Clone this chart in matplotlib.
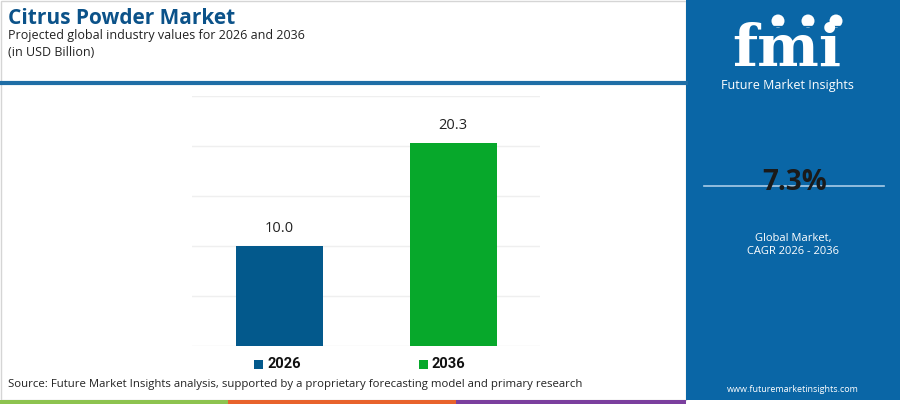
import matplotlib.pyplot as plt
from matplotlib.patches import Rectangle, Ellipse
from matplotlib.lines import Line2D

years = ['2026', '2036']
values = [10.0, 20.3]
bar_colors = ['#03598C', '#07A82B']
yticks = [0, 5, 10, 15, 20, 25]

W, H = 900, 404
fig = plt.figure(figsize=(9, 4.04), dpi=100)
fig.patch.set_facecolor('white')

def fx(x):
    return x / W

def fy(y):
    return 1 - y / H

# frame, header line and bottom stripes
fig.patches.append(Rectangle((fx(0.5), fy(400)), fx(685), 399.5 / H, transform=fig.transFigure,
                             fill=False, edgecolor='#D5D5D5', lw=1))
fig.add_artist(Line2D([0, fx(686)], [fy(83), fy(83)], color='#1F6EA6', lw=3, transform=fig.transFigure))
stripes = [('#8DC34F', 0, 228), ('#E8632C', 228, 456), ('#7B3F9E', 456, 686)]
for c, x0, x1 in stripes:
    fig.patches.append(Rectangle((fx(x0), fy(404)), fx(x1 - x0), 4 / H, transform=fig.transFigure,
                                 color=c, lw=0))

# right panel
panel = '#0A66A6'
fig.patches.append(Rectangle((fx(686), fy(400)), fx(214), 400 / H, transform=fig.transFigure,
                             color=panel, lw=0))
fig.text(fx(787), fy(66), 'fmi', color='white', fontsize=42, fontweight='bold',
         family='DejaVu Serif', ha='center', va='baseline')
for yy in range(26, 68, 4):
    fig.add_artist(Line2D([fx(716), fx(858)], [fy(yy), fy(yy)], color=panel, lw=0.9,
                          transform=fig.transFigure))
for cx in [778, 808, 836]:
    fig.patches.append(Ellipse((fx(cx), fy(21)), 13 / W, 13 / H, transform=fig.transFigure,
                               facecolor='white', edgecolor='none'))
fig.text(fx(787), fy(86), 'Future Market Insights', color='white', fontsize=9,
         family='Open Sans', ha='center', va='center')
fig.add_artist(Line2D([fx(704), fx(884)], [fy(186), fy(186)], color='#A9CCE8', lw=1.2,
                      transform=fig.transFigure))
fig.text(fx(795), fy(183), '7.3%', color='#1A1A1A', fontsize=20, fontweight='bold',
         family='Open Sans', ha='center', va='center')
fig.text(fx(793), fy(238), 'Global Market,', color='white', fontsize=8, family='Open Sans',
         ha='center', va='center')
fig.text(fx(793), fy(251), 'CAGR 2026 - 2036', color='white', fontsize=8, family='Open Sans',
         ha='center', va='center')
fig.text(fx(793), fy(389), 'www.futuremarketinsights.com', color='white', fontsize=6.5,
         family='Open Sans', ha='center', va='center')

# titles
fig.text(fx(8), fy(18), 'Citrus Powder Market', color='#0B5289', fontsize=15, fontweight='bold',
         family='Open Sans', ha='left', va='center')
fig.text(fx(8), fy(35), 'Projected global industry values for 2026 and 2036', color='#222222',
         fontsize=9, family='Open Sans', ha='left', va='center')
fig.text(fx(8), fy(52), '(in USD Billion)', color='#222222', fontsize=9, family='Open Sans',
         ha='left', va='center')
fig.text(fx(8), fy(384), 'Source: Future Market Insights analysis, supported by a proprietary forecasting model and primary research',
         color='#222222', fontsize=8.2, family='Open Sans', ha='left', va='center')

# chart
ax = fig.add_axes([fx(192), fy(346), fx(540 - 192), (346 - 96) / H])
x = range(len(years))
ax.bar(x, values, width=0.5, color=bar_colors, zorder=3)
for xi, v in zip(x, values):
    ax.text(xi, v + 1.0, f'{v:.1f}', ha='center', va='bottom', fontsize=10.5,
            family='Open Sans', color='#222222')
ax.set_xlim(-0.5, 1.5)
ax.set_ylim(0, 25)
ax.set_yticks(yticks)
ax.grid(axis='y', color='#EFEFEF', lw=1, zorder=0)
ax.set_xticks([])
ax.tick_params(left=False, labelleft=False)
for s in ax.spines.values():
    s.set_visible(False)

# legend
for lx, c, lab in [(258, bar_colors[0], years[0]), (423, bar_colors[1], years[1])]:
    fig.patches.append(Rectangle((fx(lx - 4), fy(369)), fx(9), 9 / H, transform=fig.transFigure,
                                 color=c, lw=0))
    fig.text(fx(lx + 9), fy(364), lab, fontsize=10.5, fontweight='bold', family='Roboto',
             color='#111111', ha='left', va='center')

fig.savefig('out.png', dpi=100, facecolor='white')
